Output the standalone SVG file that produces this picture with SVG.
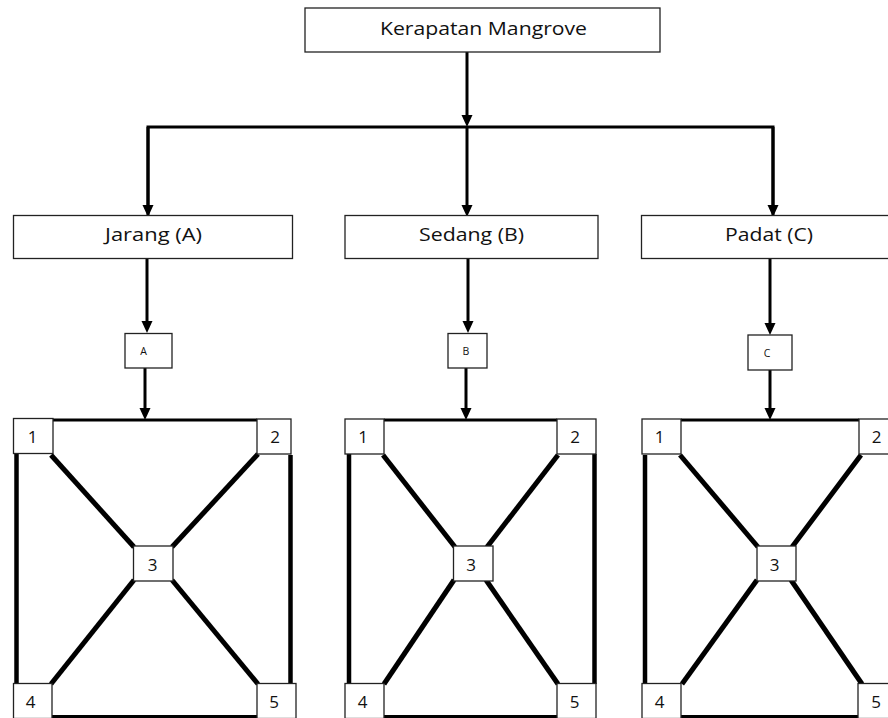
<svg xmlns="http://www.w3.org/2000/svg" width="888" height="718" viewBox="0 0 888 718">
<style>
.box{fill:#fff;stroke:#222;stroke-width:1.3}
.t{font-family:"Open Sans","Liberation Sans",sans-serif;fill:#111;text-anchor:middle}
.big{font-size:18px}
.num{font-size:17px}
.sm{font-size:10.5px}
.arr{stroke:#000;stroke-width:3;fill:none;marker-end:url(#ah)}
.ln{stroke:#000;stroke-width:3;fill:none}
.side{stroke:#000;stroke-width:4.5;fill:none}
.dg{stroke:#000;stroke-width:5;fill:none}
</style>
<defs>
<marker id="ah" markerUnits="userSpaceOnUse" markerWidth="12" markerHeight="12" refX="1" refY="6" orient="auto">
<path d="M0,0.5 L12,6 L0,11.5 z" fill="#000"/>
</marker>
</defs>
<rect width="888" height="718" fill="#fff"/>
<g id="connectors">
<line class="arr" x1="467" y1="52" x2="467" y2="116"/>
<polyline class="ln" points="148,217 148,127 773,127 773,217"/>
<line class="arr" x1="148" y1="127" x2="148" y2="206"/>
<line class="arr" x1="467" y1="127" x2="467" y2="206"/>
<line class="arr" x1="773" y1="127" x2="773" y2="206"/>
<line class="arr" x1="147" y1="259" x2="147" y2="322"/>
<line class="arr" x1="468" y1="259" x2="468" y2="322"/>
<line class="arr" x1="770" y1="259" x2="770" y2="324"/>
<line class="arr" x1="145" y1="368" x2="145" y2="409"/>
<line class="arr" x1="466" y1="368" x2="466" y2="409"/>
<line class="arr" x1="770" y1="370" x2="770" y2="409"/>
<!-- square A -->
<line class="ln" x1="53" y1="420" x2="257" y2="420"/>
<line class="side" x1="16.5" y1="453" x2="16.5" y2="684"/>
<line class="side" x1="290.5" y1="455" x2="290.5" y2="684"/>
<line class="ln" x1="52" y1="716.5" x2="257" y2="716.5"/>
<line class="dg" x1="51" y1="455" x2="134" y2="547"/>
<line class="dg" x1="258" y1="454" x2="172" y2="547"/>
<line class="dg" x1="134" y1="580" x2="51" y2="684"/>
<line class="dg" x1="172" y1="580" x2="258" y2="684"/>
<!-- square B -->
<line class="ln" x1="384" y1="420" x2="557" y2="420"/>
<line class="side" x1="349" y1="454" x2="349" y2="684"/>
<line class="side" x1="594.5" y1="454" x2="594.5" y2="684"/>
<line class="ln" x1="384" y1="716.5" x2="557" y2="716.5"/>
<line class="dg" x1="383" y1="455" x2="455" y2="547"/>
<line class="dg" x1="558" y1="455" x2="487" y2="547"/>
<line class="dg" x1="454" y1="580" x2="384" y2="684"/>
<line class="dg" x1="486" y1="580" x2="558" y2="684"/>
<!-- square C -->
<line class="ln" x1="681" y1="420" x2="859" y2="420"/>
<line class="side" x1="645" y1="455" x2="645" y2="684"/>
<line class="ln" x1="681" y1="716.5" x2="858" y2="716.5"/>
<line class="dg" x1="680" y1="455" x2="758" y2="547"/>
<line class="dg" x1="861" y1="455" x2="792" y2="547"/>
<line class="dg" x1="757" y1="580" x2="682" y2="684"/>
<line class="dg" x1="791" y1="580" x2="862" y2="684"/>
</g>
<g id="kerapatan"><rect class="box" x="305" y="8" width="355" height="44"/><text class="t big" x="483.5" y="35" textLength="207" lengthAdjust="spacingAndGlyphs">Kerapatan Mangrove</text></g>
<g id="jarang"><rect class="box" x="13.5" y="215.5" width="279" height="43"/><text class="t big" x="153.5" y="241" textLength="97" lengthAdjust="spacingAndGlyphs">Jarang (A)</text></g>
<g id="sedang"><rect class="box" x="345" y="215.5" width="253" height="43"/><text class="t big" x="471.5" y="241" textLength="105" lengthAdjust="spacingAndGlyphs">Sedang (B)</text></g>
<g id="padat"><rect class="box" x="641.5" y="215.5" width="260" height="43"/><text class="t big" x="769" y="241" textLength="88" lengthAdjust="spacingAndGlyphs">Padat (C)</text></g>
<g id="a"><rect class="box" x="125" y="333.5" width="47" height="34.5"/><text class="t sm" x="143.5" y="355">A</text></g>
<g id="b"><rect class="box" x="448" y="333.5" width="39" height="34.5"/><text class="t sm" x="466" y="355">B</text></g>
<g id="c"><rect class="box" x="748" y="335" width="44" height="35"/><text class="t sm" x="767" y="357">C</text></g>
<g id="a1"><rect class="box" x="13.5" y="418.5" width="39.5" height="35"/><text class="t num" x="32.5" y="443">1</text></g>
<g id="a2"><rect class="box" x="257" y="419" width="34" height="35"/><text class="t num" x="275" y="443">2</text></g>
<g id="a3"><rect class="box" x="133.5" y="546" width="39.5" height="35"/><text class="t num" x="152.5" y="571">3</text></g>
<g id="a4"><rect class="box" x="13.5" y="683.5" width="38.5" height="35"/><text class="t num" x="30.5" y="708">4</text></g>
<g id="a5"><rect class="box" x="257" y="683.5" width="39" height="35"/><text class="t num" x="274" y="708">5</text></g>
<g id="b1"><rect class="box" x="345" y="419" width="39" height="35"/><text class="t num" x="363" y="443">1</text></g>
<g id="b2"><rect class="box" x="557" y="419" width="39" height="35"/><text class="t num" x="575" y="443">2</text></g>
<g id="b3"><rect class="box" x="453.5" y="546" width="39.5" height="35"/><text class="t num" x="471" y="571">3</text></g>
<g id="b4"><rect class="box" x="345" y="683.5" width="39" height="35"/><text class="t num" x="362.5" y="708">4</text></g>
<g id="b5"><rect class="box" x="557" y="683.5" width="39" height="35"/><text class="t num" x="574.5" y="708">5</text></g>
<g id="c1"><rect class="box" x="642" y="419" width="39" height="35"/><text class="t num" x="659.5" y="443">1</text></g>
<g id="c2"><rect class="box" x="859" y="419" width="40" height="35"/><text class="t num" x="876.5" y="443">2</text></g>
<g id="c3"><rect class="box" x="757" y="546" width="39" height="35"/><text class="t num" x="774.5" y="571">3</text></g>
<g id="c4"><rect class="box" x="642" y="683.5" width="39" height="35"/><text class="t num" x="659.5" y="708">4</text></g>
<g id="c5"><rect class="box" x="858" y="683.5" width="40" height="35"/><text class="t num" x="876" y="708">5</text></g>
</svg>
